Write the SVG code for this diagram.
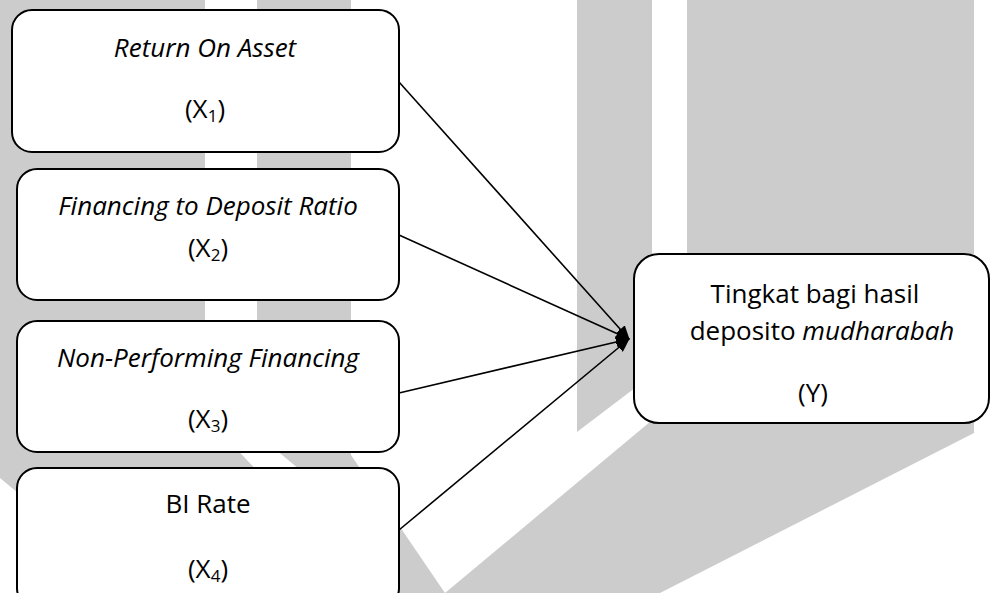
<svg xmlns="http://www.w3.org/2000/svg" width="992" height="593" viewBox="0 0 992 593">
<style>
.wm{fill:#cccccc;stroke:none}
.box{fill:#ffffff;stroke:#000000;stroke-width:2}
.t{font-family:"Open Sans","Noto Sans","Liberation Sans",sans-serif;font-size:26px;fill:#000000;text-anchor:middle}
.i{font-style:italic}
.sub{font-size:17px}
.conn{stroke:#000000;stroke-width:1.6;fill:none;marker-end:url(#ah)}
</style>
<defs>
<marker id="ah" markerUnits="userSpaceOnUse" markerWidth="14" markerHeight="12" refX="13" refY="6" orient="auto">
<path d="M0,0 L14,6 L0,12 Z" fill="#000000"/>
</marker>
</defs>
<rect width="992" height="593" fill="#ffffff"/>
<g id="watermark">
<polygon class="wm" points="0,0 351,0 351,455 445,593 138,593 0,478"/>
<polygon points="205,0 257,0 257,434 330,495 290,505 205,416" fill="#ffffff"/>
<polygon class="wm" points="577,0 652,0 652,375 577,432"/>
<polygon class="wm" points="687,0 974,0 974,433 660,593 445,593 687,391"/>
</g>
<g id="connectors">
<line class="conn" x1="399" y1="82" x2="629" y2="339"/>
<line class="conn" x1="399" y1="235" x2="629" y2="339"/>
<line class="conn" x1="399" y1="393" x2="629" y2="339"/>
<line class="conn" x1="399" y1="530" x2="629" y2="339"/>
</g>
<g id="x1">
<rect class="box" x="12" y="10" width="387" height="142" rx="20"/>
<text class="t i" x="205" y="57">Return On Asset</text>
<text class="t" x="205" y="118">(X<tspan class="sub" dy="4">1</tspan><tspan dy="-4">)</tspan></text>
</g>
<g id="x2">
<rect class="box" x="17" y="169" width="382" height="131" rx="20"/>
<text class="t i" x="208" y="215">Financing to Deposit Ratio</text>
<text class="t" x="208" y="257">(X<tspan class="sub" dy="4">2</tspan><tspan dy="-4">)</tspan></text>
</g>
<g id="x3">
<rect class="box" x="17" y="321" width="382" height="131" rx="20"/>
<text class="t i" x="208" y="367">Non-Performing Financing</text>
<text class="t" x="208" y="428">(X<tspan class="sub" dy="4">3</tspan><tspan dy="-4">)</tspan></text>
</g>
<g id="x4">
<rect class="box" x="17" y="468" width="382" height="140" rx="20"/>
<text class="t" x="208" y="513">BI Rate</text>
<text class="t" x="208" y="578">(X<tspan class="sub" dy="4">4</tspan><tspan dy="-4">)</tspan></text>
</g>
<g id="y">
<rect class="box" x="634" y="254" width="355" height="169" rx="25"/>
<text class="t" x="815" y="303">Tingkat bagi hasil</text>
<text class="t" x="822" y="340">deposito <tspan class="i">mudharabah</tspan></text>
<text class="t" x="813" y="402">(Y)</text>
</g>
</svg>
